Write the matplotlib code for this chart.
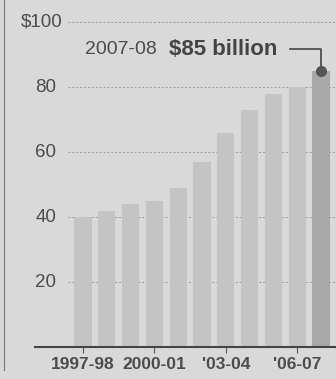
import matplotlib.pyplot as plt
from matplotlib.lines import Line2D

# Values (billions of dollars)
years = ['1997-98', '1998-99', '1999-00', '2000-01', '2001-02', '2002-03',
         '2003-04', '2004-05', '2005-06', '2006-07', '2007-08']
values = [40, 42, 44, 45, 49, 57, 66, 73, 78, 80, 85]
tick_pos = [0, 3, 6, 9]
tick_labels = ['1997-98', '2000-01', "'03-04", "'06-07"]
grid_vals = [20, 40, 60, 80, 100]
grid_labels = ['20', '40', '60', '80', '$100']

bg = '#d9d9d9'
txt = '#4c4c4c'
plt.rcParams['font.family'] = ['Liberation Sans', 'DejaVu Sans']

fig = plt.figure(figsize=(3.36, 3.79), dpi=100, facecolor=bg)
ax = fig.add_axes([35 / 336, 32 / 379, 1 - 35 / 336, 1 - 32 / 379])
ax.set_facecolor('none')

x = list(range(len(values)))
colors = ['#c4c4c4'] * (len(values) - 1) + ['#a8a8a8']
ax.bar(x, values, width=0.72, color=colors, zorder=2)

ax.set_xlim(-2.02, 10.63)
ax.set_ylim(0, 106.8)

# dotted gridlines and hand-placed value labels
ax.hlines(grid_vals, -0.63, 10.63, colors='#9a9a9a', linestyles=(0, (2, 2)),
          linewidth=0.7, zorder=1)
for v, lab in zip(grid_vals, grid_labels):
    xl = -0.88 if lab.startswith('$') else -1.13
    ax.text(xl, v, lab, ha='right', va='center', fontsize=13.5, color=txt)

for s in ['top', 'right', 'left']:
    ax.spines[s].set_visible(False)
ax.spines['bottom'].set_color('#444444')
ax.spines['bottom'].set_linewidth(1.5)
ax.set_yticks([])
ax.set_xticks(tick_pos)
ax.set_xticklabels(tick_labels, fontsize=12.5, fontweight='bold', color=txt)
ax.tick_params(axis='x', length=4, width=0.8, color='#555555', pad=3)

# callout for the latest year
ax.plot([8.7, 10, 10], [91.7, 91.7, 85], color='#444444', lw=1.2, zorder=3)
ax.plot(10, 85, 'o', color='#555555', markersize=7, zorder=4)
ax.text(3.1, 91.5, '2007-08', ha='right', va='center', fontsize=14, color=txt)
ax.text(8.15, 91.5, '$85 billion', ha='right', va='center', fontsize=16,
        fontweight='bold', color='#444444')

# left border rule of the clipping
fig.add_artist(Line2D([4 / 336, 4 / 336], [9 / 379, 1], color='#777777', lw=0.8))

fig.savefig('out.png', dpi=100, facecolor=bg)
